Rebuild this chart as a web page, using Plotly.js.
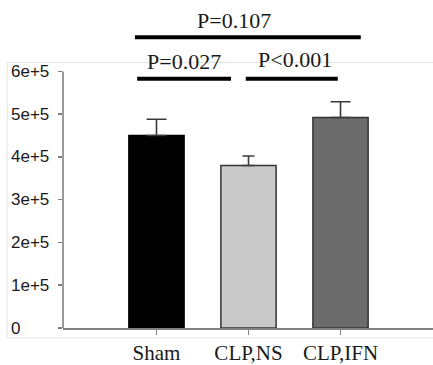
<!DOCTYPE html>
<html>
<head>
<meta charset="utf-8">
<script src="https://cdn.plot.ly/plotly-3.0.1.min.js"></script>
<style>html,body{margin:0;padding:0;background:#fff;}#chart{width:433px;height:365px;}</style>
</head>
<body>
<div id="chart"></div>
<script>
// ---- data ----
var categories = ["Sham", "CLP,NS", "CLP,IFN"];
var means = [450000, 380000, 492000];
var errors = [38000, 22000, 37000];
var yTickVals = [0, 100000, 200000, 300000, 400000, 500000, 600000];
var yTickText = ["0", "1e+5", "2e+5", "3e+5", "4e+5", "5e+5", "6e+5"];
var pLabels = ["P=0.027", "P<0.001", "P=0.107"];
var pFrom = [0, 1, 0];
var pTo = [1, 2, 2];

// ---- styles ----
var fills = ["#000000", "#c9c9c9", "#6c6c6c"];
var outlines = ["#000000", "#333333", "#333333"];
var capWidths = [10, 6, 10];
var axisGray = "#808080";

var traces = categories.map(function (c, i) {
  return {
    type: "bar",
    x: [i],
    y: [means[i]],
    width: 0.6,
    marker: { color: fills[i], line: { color: outlines[i], width: 1.5 } },
    error_y: { type: "data", symmetric: false, array: [errors[i]], arrayminus: [0],
               color: "#3a3a3a", thickness: 1.6, width: capWidths[i] },
    hoverinfo: "skip",
    showlegend: false
  };
});

var shapes = [];
var annotations = [];

// light frame around figure
shapes.push({ type: "rect", xref: "paper", yref: "paper", x0: -0.151, x1: 1.02, y0: -0.031, y1: 0.835,
  line: { color: "#e4e4e4", width: 1 }, fillcolor: "rgba(0,0,0,0)", layer: "below" });

// y axis line from 0 to top tick
shapes.push({ type: "line", xref: "paper", yref: "y", x0: 0, x1: 0,
  y0: yTickVals[0], y1: yTickVals[yTickVals.length - 1], line: { color: axisGray, width: 1.6 } });

// left-aligned y tick labels
yTickVals.forEach(function (v, i) {
  annotations.push({ xref: "paper", yref: "y", x: -0.146, y: v, xanchor: "left", yanchor: "middle",
    text: yTickText[i], showarrow: false,
    font: { family: "Liberation Sans, Arial, sans-serif", size: 17, color: "#1a1a1a" } });
});

// significance brackets
var bracketY = [583000, 583000, 680000];
var labelY = [622000, 627000, 720000];
var starts = [-0.21, -0.03, -0.234];
var ends = [-0.19, -0.03, 0.22];
var labelShift = [0.0, 0.03, -0.15];
pLabels.forEach(function (t, i) {
  var a = pFrom[i] + starts[i], b = pTo[i] + ends[i];
  shapes.push({ type: "line", xref: "x", yref: "y", x0: a, x1: b, y0: bracketY[i], y1: bracketY[i],
    line: { color: "#000", width: 4 } });
  annotations.push({ xref: "x", yref: "y", x: (a + b) / 2 + labelShift[i], y: labelY[i], text: t, showarrow: false,
    xanchor: "center", yanchor: "middle",
    font: { family: "Liberation Serif, Times New Roman, serif", size: 22, color: "#1a1a1a" } });
});

var layout = {
  width: 433, height: 365,
  margin: { l: 63, r: 0, t: 10, b: 37 },
  paper_bgcolor: "#fff", plot_bgcolor: "#fff",
  barmode: "overlay",
  showlegend: false,
  xaxis: {
    range: [-1.016, 3.005], tickvals: [0, 1, 2], ticktext: categories,
    showgrid: false, zeroline: false, showline: true, linecolor: axisGray, linewidth: 1.8,
    ticks: "outside", ticklen: 5, tickwidth: 1.5, tickcolor: axisGray,
    tickfont: { family: "Liberation Serif, Times New Roman, serif", size: 21, color: "#1a1a1a" },
    fixedrange: true
  },
  yaxis: {
    range: [0, 743500], tickvals: yTickVals, ticktext: yTickText, showticklabels: false,
    showgrid: false, zeroline: false, showline: false,
    ticks: "outside", ticklen: 4, tickwidth: 1.5, tickcolor: axisGray,
    fixedrange: true
  },
  shapes: shapes,
  annotations: annotations
};

Plotly.newPlot("chart", traces, layout, { displayModeBar: false, staticPlot: true });
</script>
</body>
</html>
